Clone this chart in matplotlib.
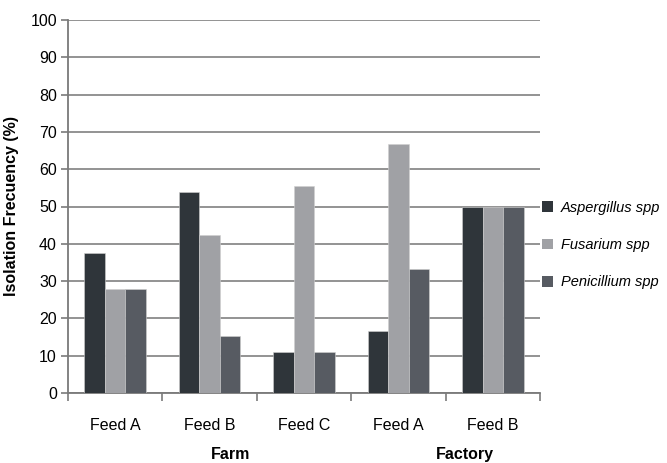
import matplotlib
matplotlib.use("Agg")
import matplotlib.pyplot as plt
import numpy as np
from matplotlib.patches import Patch

plt.rcParams['font.family'] = ['Liberation Sans', 'DejaVu Sans']

categories = ["Feed A", "Feed B", "Feed C", "Feed A", "Feed B"]
groups = ["Farm", "Factory"]
series_names = ["Aspergillus spp", "Fusarium spp", "Penicillium spp"]
aspergillus = [37.5, 53.8, 11.1, 16.7, 50.0]
fusarium = [27.8, 42.3, 55.6, 66.7, 50.0]
penicillium = [27.8, 15.4, 11.1, 33.3, 50.0]
yticks = list(range(0, 101, 10))

colors = ["#2f353a", "#a0a1a5", "#575b62"]

fig = plt.figure(figsize=(6.67, 4.63), dpi=100)
ax = fig.add_axes([68/667, 1-393/463, (540-68)/667, (393-20)/463])

x = np.arange(len(categories))
w = 0.217
for i, (vals, c) in enumerate(zip([aspergillus, fusarium, penicillium], colors)):
    ax.bar(x + (i-1)*w, vals, width=w, color=c, edgecolor="#d0d0d0", linewidth=0.4, zorder=3)

ax.set_xlim(-0.5, len(categories)-0.5)
ax.set_ylim(0, 100)
ax.set_yticks(yticks)
ax.set_yticklabels([str(t) for t in yticks], fontsize=11.5)
ax.yaxis.grid(True, color="#8a8a8a", linewidth=1.3, zorder=0)
ax.set_axisbelow(True)
for s in ["top", "right"]:
    ax.spines[s].set_visible(False)
ax.spines["left"].set_color("#7a7a7a")
ax.spines["bottom"].set_color("#7a7a7a")
ax.spines["left"].set_linewidth(1.3)
ax.spines["bottom"].set_linewidth(1.3)

ax.set_xticks(np.arange(-0.5, len(categories)), minor=False)
ax.set_xticklabels([])
ax.tick_params(axis='x', length=6, color="#7a7a7a", width=1.2)
ax.tick_params(axis='y', length=5, color="#7a7a7a", width=1.2, pad=3)
for xi, lab in zip(x, categories):
    ax.text(xi, -8.8, lab, ha='center', va='center', fontsize=11.5, clip_on=False)
ax.text(1.22, -16.6, groups[0], ha='center', va='center', fontsize=11.5, fontweight='bold', clip_on=False)
ax.text(3.7, -16.6, groups[1], ha='center', va='center', fontsize=11.5, fontweight='bold', clip_on=False)

ax.set_ylabel("Isolation Frecuency (%)", fontsize=11.5, fontweight='bold', labelpad=8)

handles = [Patch(facecolor=c, edgecolor='none') for c in colors]
leg = fig.legend(handles, series_names, loc='center left', bbox_to_anchor=(538/667, 1-245/463),
                 frameon=False, prop={'style': 'italic', 'size': 10.5}, handlelength=0.75, handleheight=0.75,
                 handletextpad=0.5, labelspacing=1.6, borderaxespad=0, borderpad=0.3)

fig.savefig("out.png", dpi=100)
